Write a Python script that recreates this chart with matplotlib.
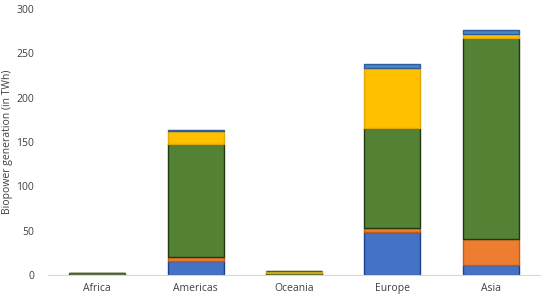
import matplotlib
matplotlib.use("Agg")
import matplotlib.pyplot as plt
import numpy as np

categories = ["Africa", "Americas", "Oceania", "Europe", "Asia"]
series_names = ["Blue", "Orange", "Green", "Yellow", "Top blue"]
blue = [0.2, 16, 0.3, 49, 11]
orange = [0.1, 4.5, 0.2, 3.5, 30]
green = [1.5, 127, 2.3, 113, 226]
yellow = [0.1, 15, 1.2, 68, 5]
top_blue = [0.0, 1.5, 0.2, 5, 4]
yticks = [0, 50, 100, 150, 200, 250, 300]

series = [blue, orange, green, yellow, top_blue]
faces = ["#4472C4", "#ED7D31", "#548235", "#FFC000", "#4A86C8"]
edges = ["#1F3F8F", "#C55A11", "#1E3A0E", "#E0A800", "#2E5C9A"]

plt.rcParams['font.family'] = ['Open Sans', 'DejaVu Sans']
fig = plt.figure(figsize=(5.43, 3.0), dpi=100)
ax = fig.add_axes([48/543, 25/300, (540-48)/543, (275-9)/300])

x = np.arange(len(categories))
bottom = np.zeros(len(categories))
for vals, fc, ec in zip(series, faces, edges):
    v = np.array(vals, dtype=float)
    ax.bar(x, v, width=0.57, bottom=bottom, color=fc, edgecolor=ec, linewidth=1.0)
    bottom += v

ax.set_xlim(-0.5, len(categories) - 0.5)
ax.set_ylim(0, 300)
ax.set_yticks(yticks)
ax.set_xticks(x)
ax.set_xticklabels(categories)
ax.tick_params(axis='both', length=0, labelsize=7.5, colors="#404040")
ax.tick_params(axis='y', pad=10)
ax.tick_params(axis='x', pad=6)
for s in ["top", "right", "left"]:
    ax.spines[s].set_visible(False)
ax.spines["bottom"].set_color("#D9D9D9")
ax.spines["bottom"].set_linewidth(0.8)
fig.text(8/543, 1 - 142/300, "Biopower generation (in TWh)", rotation=90,
         ha='center', va='center', fontsize=7.5, color="#404040")

fig.savefig("out.png", dpi=100)
